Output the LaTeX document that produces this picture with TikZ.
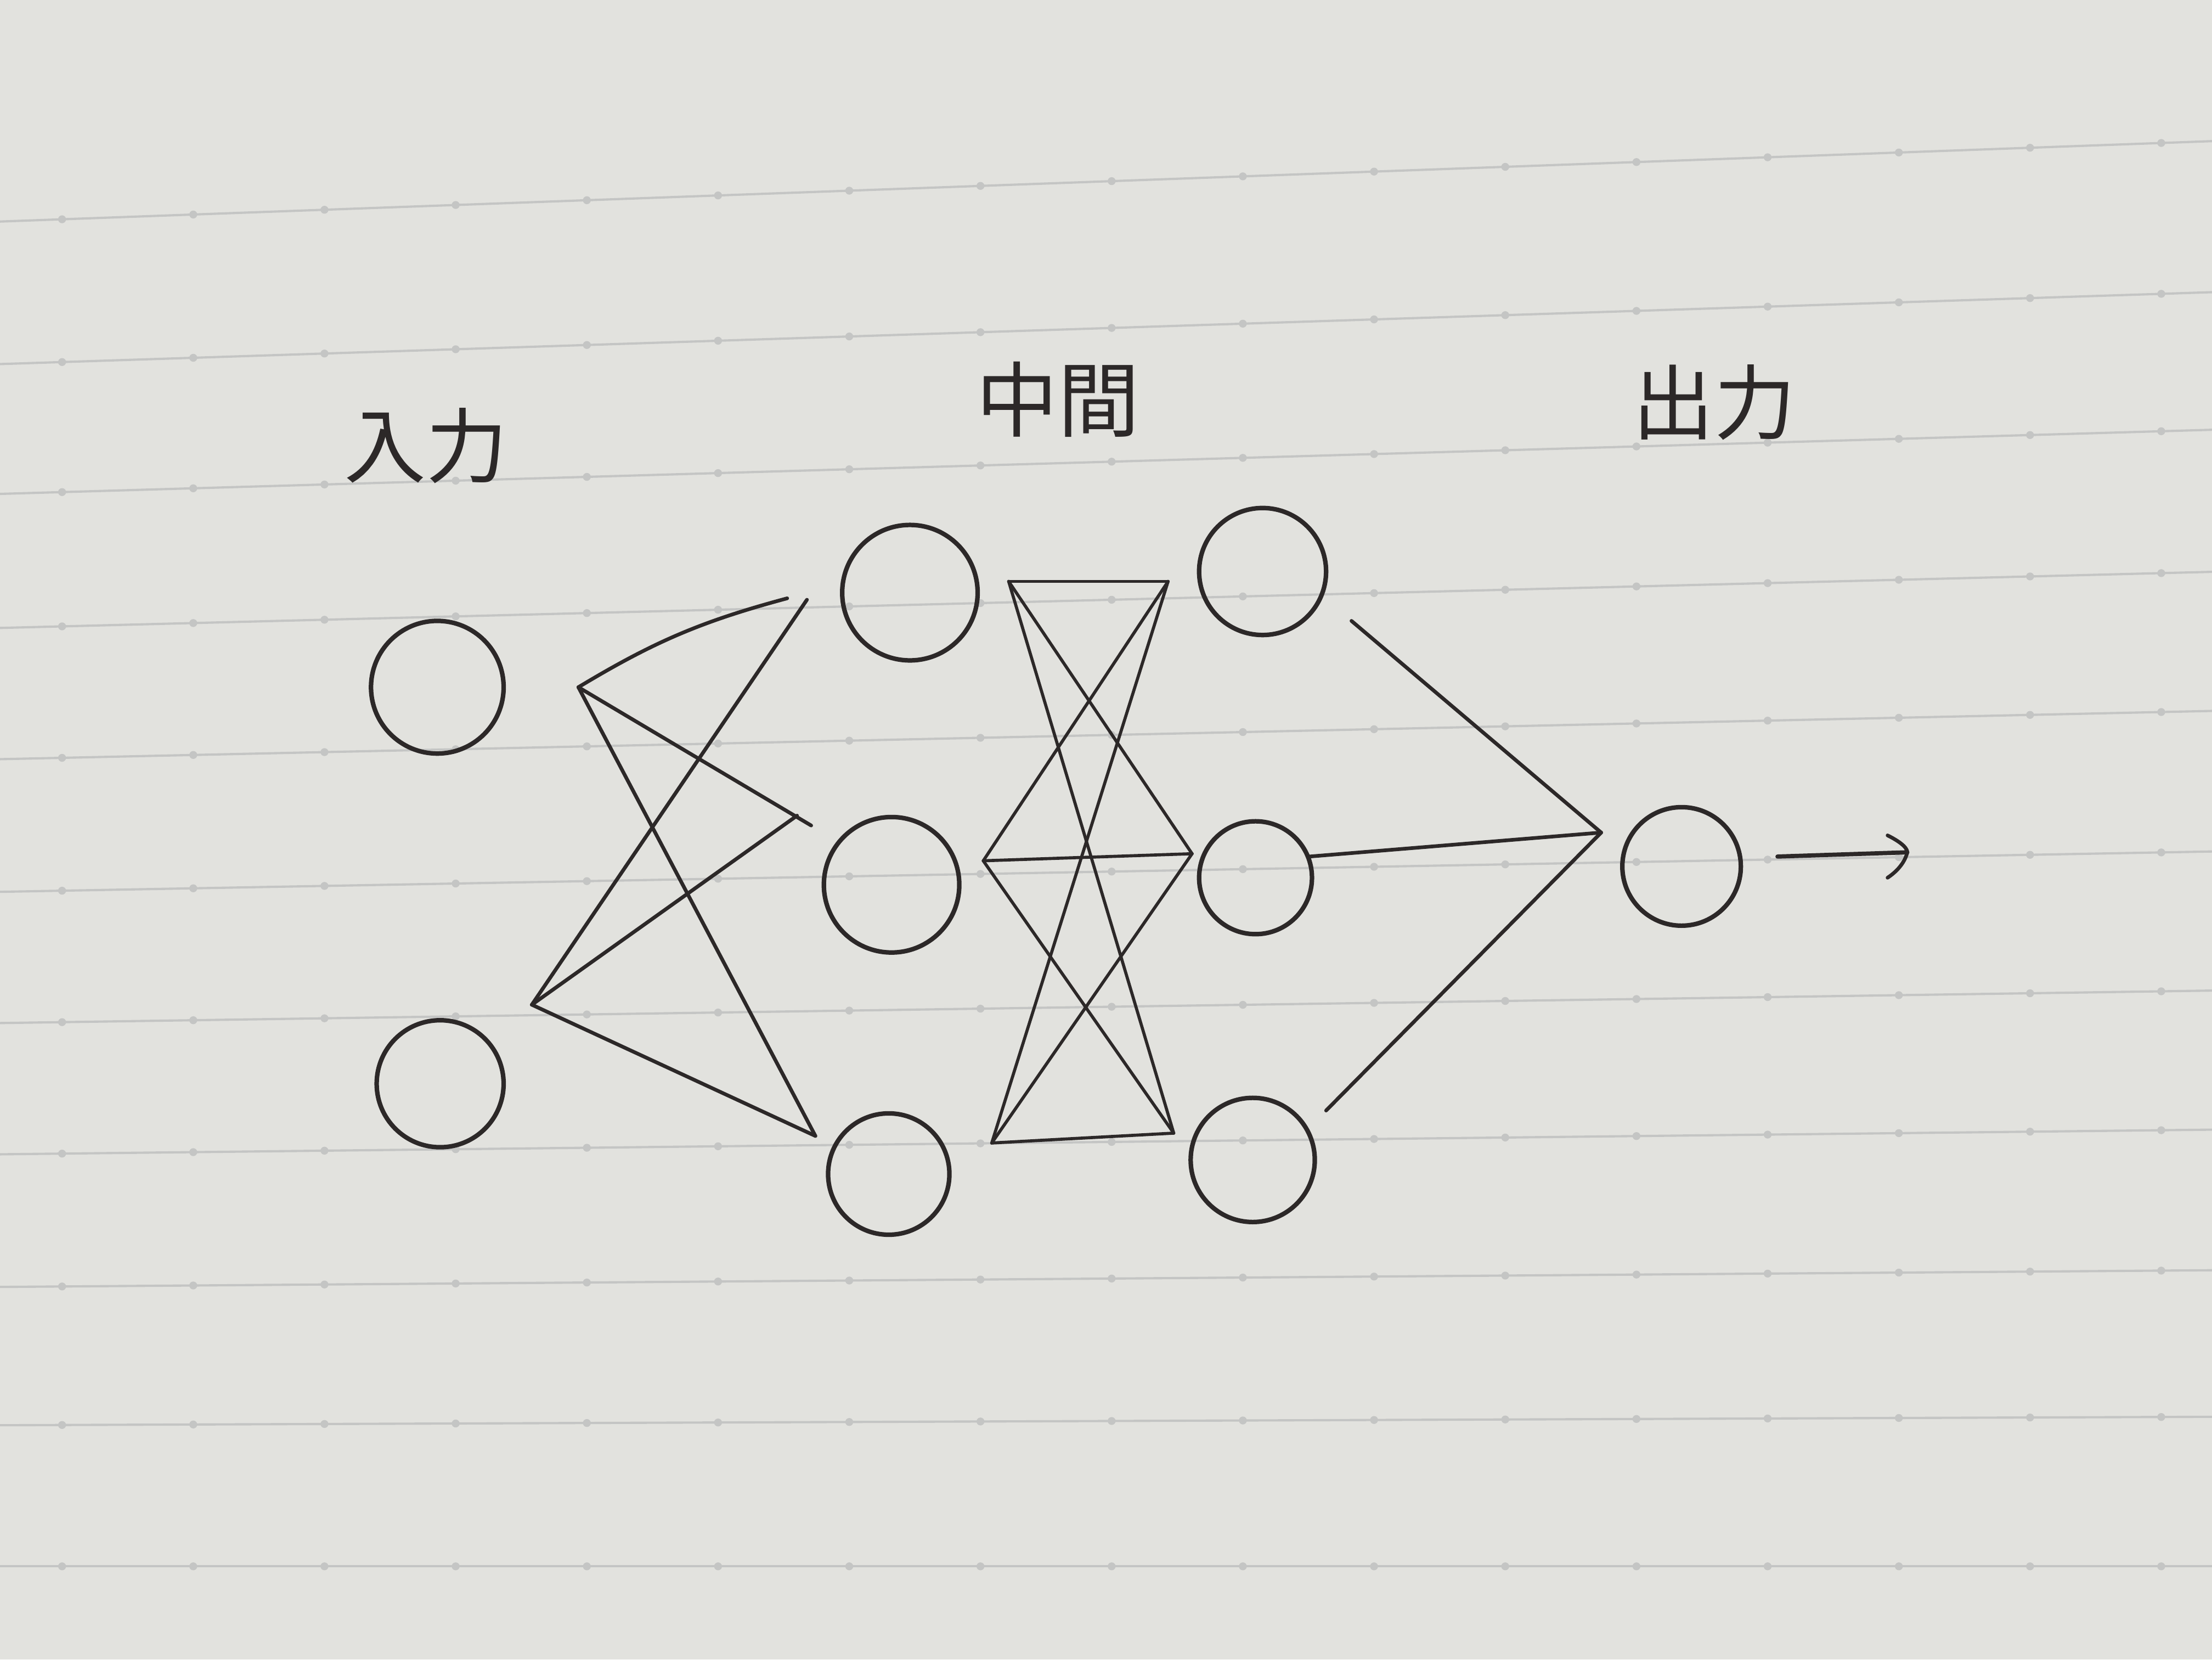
\documentclass[tikz,border=0pt]{standalone}
\usepackage{fontspec}
\newfontfamily\jpfont{Noto Sans CJK JP}
\definecolor{paper}{RGB}{226,226,222}
\definecolor{rule}{RGB}{196,197,196}
\definecolor{ink}{RGB}{44,40,40}
\begin{document}
\begin{tikzpicture}[x=1pt,y=-1pt,
  neuron/.style={circle,draw=ink,line width=3.2pt,inner sep=0pt},
  wire/.style={draw=ink,line width=2.6pt,line cap=round},
  label/.style={text=ink,font=\jpfont\fontsize{58}{60}\selectfont,inner sep=0pt},
  ruled/.style={draw=rule,line width=1.6pt}]
\fill[paper] (0,0) rectangle (1568,1176);
\useasboundingbox (0,0) rectangle (1568,1176);
% ruled lines of the paper, with their dots
\foreach \l in {157,258,350,445,538,632,725,818,912,1010,1110}{
  \pgfmathsetmacro{\r}{\l-0.0598*(1110-\l)}
  \draw[ruled] (0,\l) -- (1568,\r);
  \foreach \k in {0,...,16}{
    \pgfmathsetmacro{\dx}{44+93*\k}
    \pgfmathsetmacro{\dy}{\l+(\r-\l)*(\dx/1568)}
    \fill[rule] (\dx,\dy) circle (2.8pt);
  }
}
% labels
\node[label] (lin) at (302,316) {入力};
\node[label] (lmid) at (750,283) {中間};
\node[label] (lout) at (1215,285) {出力};
% neurons
\node[neuron,minimum size=94pt] (i1) at (310,487) {};
\node[neuron,minimum size=90pt] (i2) at (312,768) {};
\node[neuron,minimum size=96pt] (h1) at (645,420) {};
\node[neuron,minimum size=96pt] (h2) at (632,627) {};
\node[neuron,minimum size=86pt] (h3) at (630,832) {};
\node[neuron,minimum size=90pt] (g1) at (895,405) {};
\node[neuron,minimum size=80pt] (g2) at (890,622) {};
\node[neuron,minimum size=88pt] (g3) at (888,822) {};
\node[neuron,minimum size=84pt] (o1) at (1192,614) {};
% connector end points
\coordinate (a1) at (410,487);
\coordinate (a2) at (377,712);
\coordinate (b1a) at (558,424);
\coordinate (b1b) at (572,425);
\coordinate (b2a) at (575,585);
\coordinate (b2b) at (565,578);
\coordinate (b3) at (578,805);
\coordinate (c1) at (715,412);
\coordinate (c2) at (697,610);
\coordinate (c3) at (703,810);
\coordinate (d1) at (828,412);
\coordinate (d2) at (845,605);
\coordinate (d3) at (832,803);
\coordinate (e1) at (958,440);
\coordinate (e2) at (928,607);
\coordinate (e3) at (940,787);
\coordinate (f) at (1135,590);
\coordinate (q1) at (1260,607);
\coordinate (q2) at (1352,604);
% input -> hidden 1
\draw[wire] (a1) to[bend left=8] (b1a);
\draw[wire] (a1) -- (b2a);
\draw[wire] (a1) -- (b3);
\draw[wire] (a2) -- (b1b);
\draw[wire] (a2) -- (b2b);
\draw[wire] (a2) -- (b3);
% hidden 1 -> hidden 2
\foreach \s in {c1,c2,c3}{
  \foreach \t in {d1,d2,d3}{
    \draw[wire,line width=2.2pt] (\s) -- (\t);
  }
}
% hidden 2 -> output
\draw[wire] (e1) -- (f);
\draw[wire] (e2) -- (f);
\draw[wire] (e3) -- (f);
% output arrow
\draw[wire,line width=3pt] (q1) -- (q2);
\draw[wire] (1338,592) .. controls (1350,598) and (1352,602) .. (q2) .. controls (1350,612) and (1344,618) .. (1338,622);
\end{tikzpicture}
\end{document}
